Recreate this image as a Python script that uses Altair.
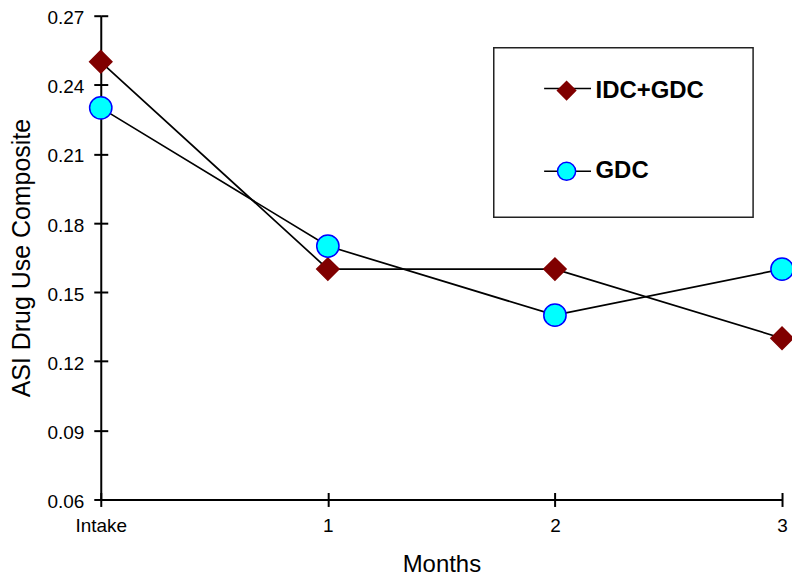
import altair as alt
import pandas as pd

# ---- data ----
months = ["Intake", "1", "2", "3"]
series_names = ["IDC+GDC", "GDC"]
idc_gdc = [0.25, 0.16, 0.16, 0.13]
gdc = [0.23, 0.17, 0.14, 0.16]
y_ticks = [0.06, 0.09, 0.12, 0.15, 0.18, 0.21, 0.24, 0.27]

rows = []
for name, vals in zip(series_names, [idc_gdc, gdc]):
    for m, v in zip(months, vals):
        rows.append({"month": m, "value": v, "series": name, "line": name})
df = pd.DataFrame(rows)

FONT = "Liberation Sans"

x_scale = alt.Scale(type="point", padding=0, domain=months)
y_scale = alt.Scale(domain=[0.06, 0.27], nice=False, zero=False)

main_x_axis = alt.Axis(
    orient="bottom", title="Months", labelAngle=0, tickSize=7, tickWidth=2,
    tickColor="black", domainColor="black", domainWidth=2, labelFont=FONT,
    labelFontSize=19, labelColor="black", labelPadding=10, titleFont=FONT,
    titleFontSize=24, titleFontWeight="normal", titleColor="black",
    titlePadding=17, grid=False,
)
inner_x_axis = alt.Axis(
    orient="bottom", offset=-7, tickSize=7, tickWidth=2, tickColor="black",
    domain=False, labels=False, title=None, grid=False,
)
main_y_axis = alt.Axis(
    orient="left", title="ASI Drug Use Composite", values=y_ticks, format=".2f",
    tickSize=7, tickWidth=2, tickColor="black", domainColor="black",
    domainWidth=2, labelFont=FONT, labelFontSize=19, labelColor="black",
    labelPadding=10, labelOffset=2, titleFont=FONT, titleFontSize=25,
    titleFontWeight="normal", titleColor="black", titlePadding=12, grid=False,
)
inner_y_axis = alt.Axis(
    orient="left", offset=-7, values=y_ticks, tickSize=7, tickWidth=2,
    tickColor="black", domain=False, labels=False, title=None, grid=False,
)

# line-symbol legend (carries the box); path bounds define the box extent
LINE_PATH = "M-2.35,-1.2M15.2,1.2M-2.35,0L2.35,0"
legend_a = alt.Legend(
    orient="none", legendX=394, legendY=32, title=None, padding=30,
    strokeColor="#222222", symbolType=LINE_PATH, symbolSize=400,
    symbolOffset=33, symbolStrokeWidth=1.6, symbolStrokeColor="black",
    labelExpr="''", rowPadding=51,
)
legend_b = alt.Legend(
    orient="none", legendX=455, legendY=63, title=None, padding=0,
    symbolSize=330, symbolStrokeWidth=1.5, labelFont=FONT, labelFontSize=24,
    labelFontWeight="bold", labelColor="black", labelOffset=17, rowPadding=55,
)

line = alt.Chart(df).mark_line(strokeWidth=1.7).encode(
    x=alt.X("month:N", scale=x_scale, axis=main_x_axis),
    y=alt.Y("value:Q", scale=y_scale, axis=main_y_axis),
    color=alt.Color("line:N", scale=alt.Scale(range=["black", "black"]), legend=legend_a),
)

points = alt.Chart(df).mark_point(filled=True, opacity=1, strokeWidth=1.5, size=500).encode(
    x=alt.X("month:N", scale=x_scale, axis=inner_x_axis),
    y=alt.Y("value:Q", scale=y_scale, axis=inner_y_axis),
    fill=alt.Fill("series:N", scale=alt.Scale(domain=series_names, range=["#800000", "#00ffff"]),
                  legend=legend_b),
    stroke=alt.Stroke("series:N", scale=alt.Scale(domain=series_names, range=["#800000", "#0000ff"]),
                      legend=legend_b),
    shape=alt.Shape("series:N", scale=alt.Scale(domain=series_names, range=["diamond", "circle"]),
                    legend=legend_b),
)

chart = (
    alt.layer(line, points)
    .resolve_axis(x="independent", y="independent")
    .properties(
        width=683, height=485,
        padding={"left": 93, "top": 7, "right": 10, "bottom": 80},
        autosize=alt.AutoSizeParams(type="none"),
        background="white",
    )
    .configure_view(stroke=None)
    .configure_legend(strokeWidth=1.5)
)

chart.save("out.html", embed_options={"renderer": "svg", "actions": False})
